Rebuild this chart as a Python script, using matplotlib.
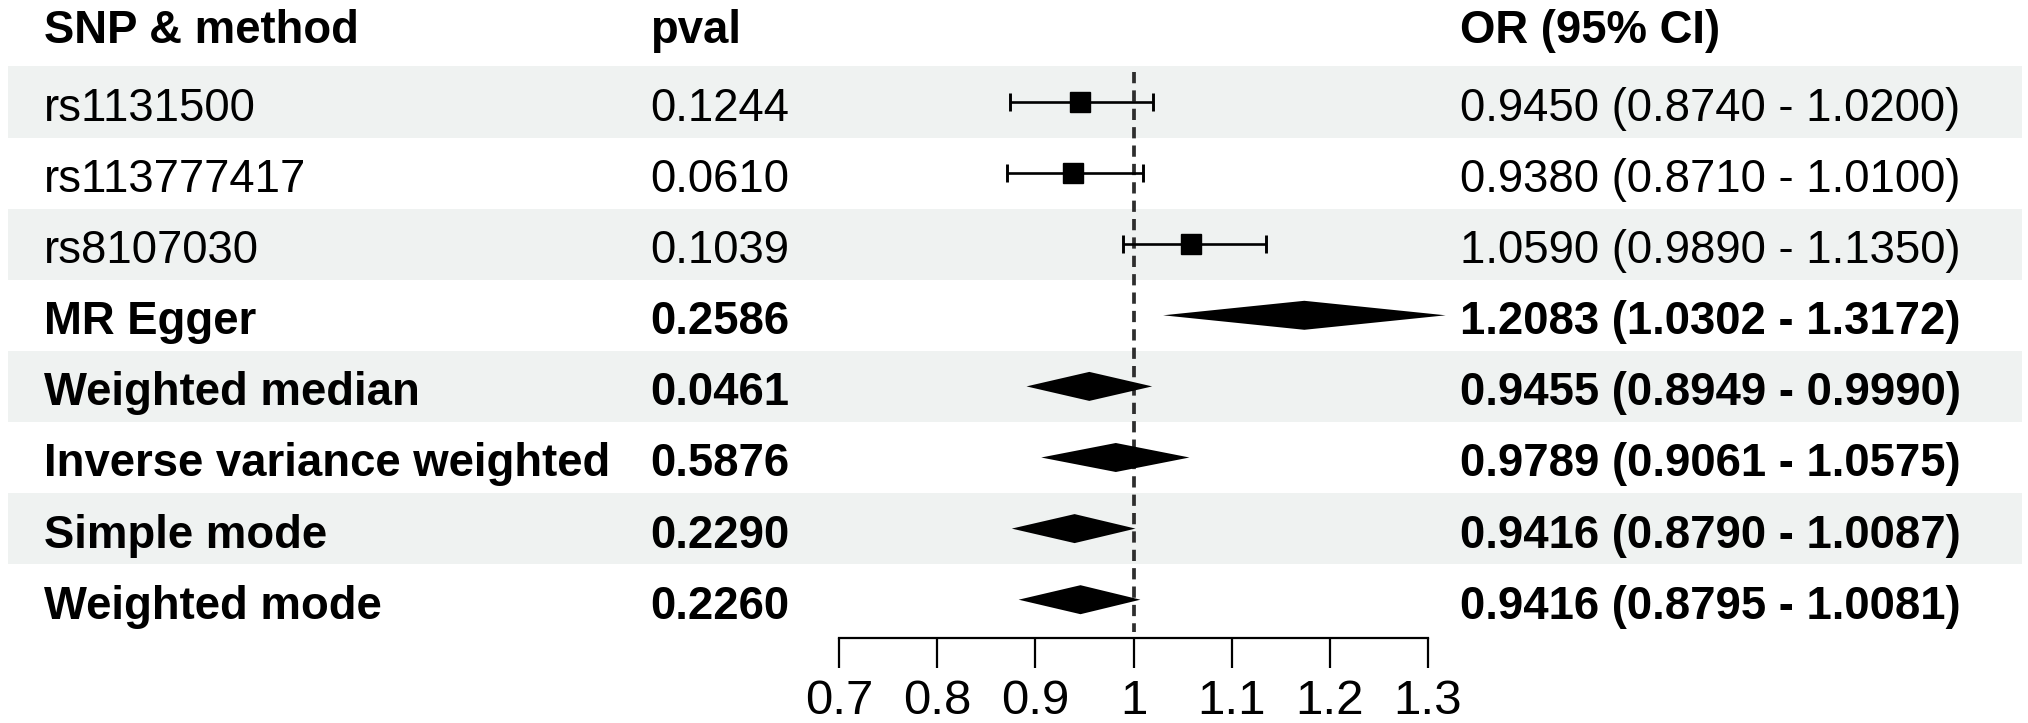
import matplotlib
matplotlib.use("Agg")
import matplotlib.pyplot as plt
import numpy as np

plt.rcParams['font.family'] = ['Liberation Sans', 'DejaVu Sans']

# table data
labels = ["rs1131500", "rs113777417", "rs8107030", "MR Egger", "Weighted median",
          "Inverse variance weighted", "Simple mode", "Weighted mode"]
pvals = ["0.1244", "0.0610", "0.1039", "0.2586", "0.0461", "0.5876", "0.2290", "0.2260"]
or_text = ["0.9450 (0.8740 - 1.0200)", "0.9380 (0.8710 - 1.0100)", "1.0590 (0.9890 - 1.1350)",
           "1.2083 (1.0302 - 1.3172)", "0.9455 (0.8949 - 0.9990)", "0.9789 (0.9061 - 1.0575)",
           "0.9416 (0.8790 - 1.0087)", "0.9416 (0.8795 - 1.0081)"]
is_method = [False, False, False, True, True, True, True, True]

# plotted estimates (read from the marks)
est = [0.9450, 0.9380, 1.0590, 1.174, 0.955, 0.982, 0.940, 0.946]
low = [0.8740, 0.8710, 0.9890, 1.0302, 0.891, 0.906, 0.876, 0.883]
high = [1.0200, 1.0100, 1.1350, 1.318, 1.019, 1.057, 1.002, 1.007]

ticks = [0.7, 0.8, 0.9, 1, 1.1, 1.2, 1.3]
tick_labels = ["0.7", "0.8", "0.9", "1", "1.1", "1.2", "1.3"]

W, H = 2028, 723
row_h = 71.1
row1_px = 102

def px_to_row(p):
    return 1 + (p - row1_px) / row_h

fig = plt.figure(figsize=(W / 100, H / 100), dpi=100)

bg = fig.add_axes([0, 0, 1, 1])
bg.set_xlim(0, W)
bg.set_ylim(px_to_row(H), px_to_row(0))
bg.axis('off')

n = len(labels)
rows = np.arange(1, n + 1)

# shaded bands on odd rows
shade = rows[::2]
bg.barh(shade, [2014] * len(shade), left=8, height=1.0, color='#eff2f1', zorder=0)

fs = 32.8
hdr_y = px_to_row(43)
bg.text(44, hdr_y, "SNP & method", fontsize=fs, fontweight='bold', va='baseline')
bg.text(650, hdr_y, "pval", fontsize=fs, fontweight='bold', va='baseline')
bg.text(1460, hdr_y, "OR (95% CI)", fontsize=fs, fontweight='bold', va='baseline')

base_off = 19 / row_h
for i in range(n):
    w = 'bold' if is_method[i] else 'normal'
    y = rows[i] + base_off
    bg.text(44, y, labels[i], fontsize=fs, fontweight=w, va='baseline')
    bg.text(650, y, pvals[i], fontsize=fs, fontweight=w, va='baseline')
    bg.text(1460, y, or_text[i], fontsize=fs, fontweight=w, va='baseline')

# forest panel
x0, x1 = 839, 1428
top_px, axis_px = 67, 638
ax = fig.add_axes([x0 / W, 1 - axis_px / H, (x1 - x0) / W, (axis_px - top_px) / H])
ax.patch.set_alpha(0)
ax.set_xlim(0.7, 1.3)
ax.set_ylim(px_to_row(axis_px), px_to_row(top_px))

ax.vlines(1, px_to_row(72), px_to_row(632), colors='#2e2e2e', linestyles=(0, (3.0, 1.9)),
          linewidth=2.7, zorder=1)

for i in range(n):
    r = rows[i]
    if not is_method[i]:
        ax.errorbar(est[i], r, xerr=[[est[i] - low[i]], [high[i] - est[i]]], fmt='s',
                    color='black', markersize=14.2, elinewidth=1.9, capsize=6.2,
                    capthick=2.1, zorder=3)
    else:
        h = 14.5 / row_h
        ax.fill([low[i], est[i], high[i], est[i]], [r, r - h, r, r + h],
                color='black', lw=0, zorder=3, clip_on=False)

for s in ['top', 'left', 'right']:
    ax.spines[s].set_visible(False)
ax.spines['bottom'].set_linewidth(1.6)
ax.spines['bottom'].set_bounds(0.7, 1.3)
ax.set_yticks([])
ax.set_xticks(ticks)
ax.set_xticklabels(tick_labels)
ax.tick_params(axis='x', direction='out', length=21.6, width=1.6, pad=8, labelsize=35.5)

fig.savefig("out.png", dpi=100)
